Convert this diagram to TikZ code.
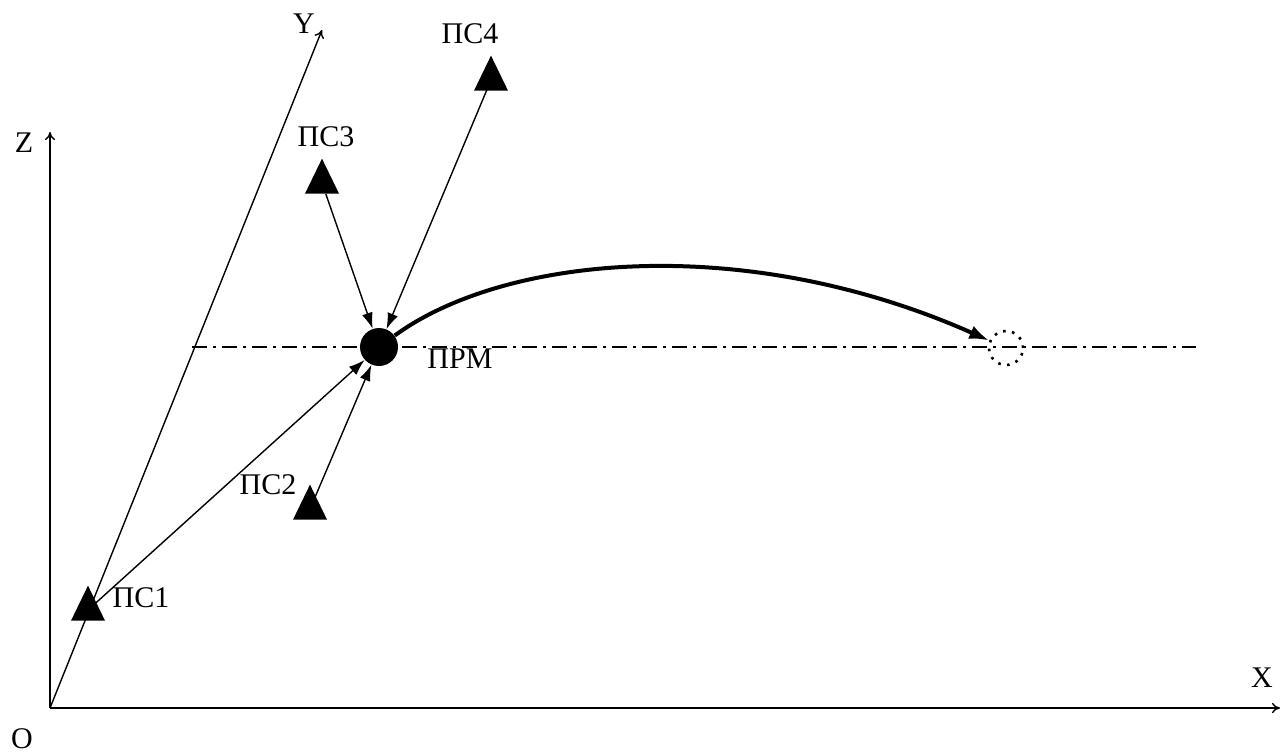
\documentclass[tikz,border=0pt]{standalone}
\usepackage{fontspec}
\setmainfont{Liberation Serif}
\usetikzlibrary{shapes.geometric,arrows.meta}

\tikzset{
  station/.style={isosceles triangle, isosceles triangle apex angle=53,
    isosceles triangle stretches, shape border rotate=90, fill=black,
    inner sep=0pt, minimum width=17pt, minimum height=17.5pt},
  rx/.style={circle, fill=black, inner sep=0pt, minimum size=19pt},
  ghost/.style={circle, draw, line width=1.3pt, dash pattern=on 1.3pt off 3.2pt,
    inner sep=0pt, minimum size=17pt},
  lbl/.style={inner sep=0pt, font=\fontsize{15}{18}\selectfont},
  axis/.style={line width=0.7pt, -{To[length=4pt,width=5pt]}},
  ray/.style={line width=0.7pt, -{Latex[length=8pt,width=5.5pt]}},
  track/.style={line width=2pt, -{Latex[length=10pt,width=7pt]}},
  dashdot/.style={line width=0.7pt, dash pattern=on 7.5pt off 3pt on 1.5pt off 3pt}
}

\begin{document}
\begin{tikzpicture}[x=0.5pt, y=-0.5pt]
    \useasboundingbox (0,0) rectangle (1288,754) ;

    % axes
    \coordinate (O) at (50,708) ;
    \coordinate (xend) at (1280,708) ;
    \coordinate (yend) at (322,30) ;
    \coordinate (zend) at (50,132) ;
    \draw[axis] (O) -- (xend) ;
    \draw[axis] (O) -- (yend) ;
    \draw[axis] (O) -- (zend) ;
    \node[lbl] (lO) at (22,739) {O} ;
    \node[lbl] (lX) at (1262,678) {X} ;
    \node[lbl] (lY) at (304,24) {Y} ;
    \node[lbl] (lZ) at (24,143) {Z} ;

    % level line
    \coordinate (hl) at (192,347) ;
    \coordinate (hr) at (1196,347) ;
    \draw[dashdot] (hl) -- (hr) ;

    % receiver and its later position
    \node[rx] (prm) at (379,347) {} ;
    \node[lbl] (lprm) at (460,359) {ПРМ} ;
    \node[ghost] (prm2) at (1006,348) {} ;

    % stations
    \node[station] (ps1) at (88,610) {} ;
    \node[station] (ps2) at (310,509) {} ;
    \node[station] (ps3) at (322,183) {} ;
    \node[station] (ps4) at (491,80) {} ;
    \node[lbl] (lps1) at (141,598) {ПС1} ;
    \node[lbl] (lps2) at (268,485) {ПС2} ;
    \node[lbl] (lps3) at (326,137) {ПС3} ;
    \node[lbl] (lps4) at (470,34) {ПС4} ;

    \draw[ray] (ps1.center) -- (prm) ;
    \draw[ray] (ps2.center) -- (prm) ;
    \draw[ray] (ps3) -- (prm) ;
    \draw[ray] (ps4.center) -- (prm) ;

    % flight path
    \draw[track] (prm) .. controls (505,255) and (745,232) .. (prm2) ;
\end{tikzpicture}
\end{document}
